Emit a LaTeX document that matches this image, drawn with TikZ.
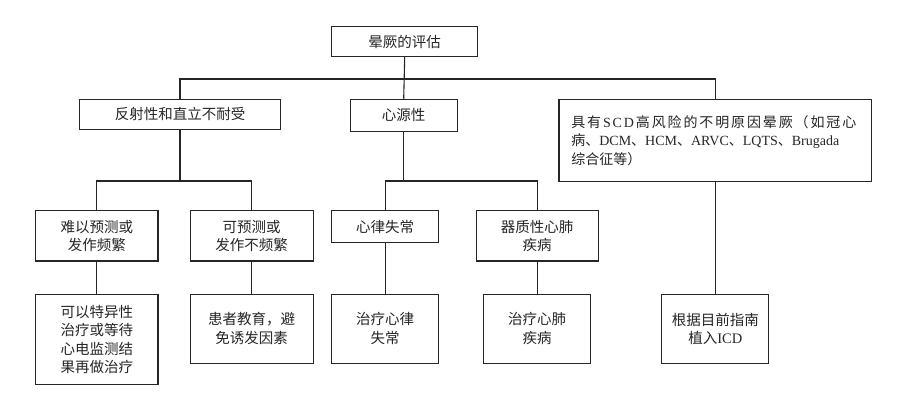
\documentclass[tikz,border=0pt]{standalone}
\usepackage{fontspec}
\setmainfont{Liberation Serif}
\newfontfamily\cjk{Noto Sans CJK SC}
\newcommand{\lat}[1]{{\rmfamily #1}}
\begin{document}
\begin{tikzpicture}[x=1pt,y=-1pt,
  box/.style={draw=black!85, line width=1.1pt, align=center, inner sep=2pt,
    font=\cjk\fontsize{14.5}{18.5}\selectfont, text=black!85},
  link/.style={draw=black!85, line width=1.1pt}]
\useasboundingbox (0,0) rectangle (902,406);
\fill[white] (0,0) rectangle (902,406);
% level 0
\node[box, minimum width=146pt, minimum height=30pt] (top) at (404.7,41.7) {晕厥的评估};
% level 1
\node[box, minimum width=201.4pt, minimum height=30pt] (A) at (180,114.3) {反射性和直立不耐受};
\node[box, minimum width=107.3pt, minimum height=32pt] (B) at (403.7,115.3) {心源性};
\node[box, font=\cjk\fontsize{14}{18.5}\selectfont, minimum width=312.7pt, minimum height=82.4pt, text width=288pt, inner xsep=12.35pt, align=left] (C) at (715.3,140.5)
  {\makebox[285pt][s]{具\hfil 有\hfil \lat{S}\hfil\lat{C}\hfil\lat{D}\hfil 高\hfil 风\hfil 险\hfil 的\hfil 不\hfil 明\hfil 原\hfil 因\hfil 晕\hfil 厥\hfil （\hfil 如\hfil 冠\hfil 心}\\
   病、\lat{DCM}、\lat{HCM}、\lat{ARVC}、\lat{LQTS}、\lat{Brugada}\\
   综合征等）};
% level 2
\node[box, minimum width=122.3pt, minimum height=50.3pt] (A1) at (96.8,235.8) {难以预测或\\发作频繁};
\node[box, minimum width=122.7pt, minimum height=50.3pt] (A2) at (251.7,235.8) {可预测或\\发作不频繁};
\node[box, minimum width=107pt, minimum height=32pt] (B1) at (385.2,226.7) {心律失常};
\node[box, minimum width=122.3pt, minimum height=50.3pt] (B2) at (537.2,235.8) {器质性心肺\\疾病};
% level 3
\node[box, minimum width=122.3pt, minimum height=90.4pt] (A1a) at (96.8,339.5) {可以特异性\\治疗或等待\\心电监测结\\果再做治疗};
\node[box, minimum width=122.7pt, minimum height=68.7pt] (A2a) at (251.7,328.7) {患者教育，避\\免诱发因素};
\node[box, minimum width=107pt, minimum height=68.7pt] (B1a) at (385.2,328.7) {治疗心律\\失常};
\node[box, minimum width=107.4pt, minimum height=68.7pt] (B2a) at (537.2,328.7) {治疗心肺\\疾病};
\node[box, minimum width=107pt, minimum height=68.7pt] (C1) at (715.3,328.7) {根据目前指南\\植入\lat{ICD}};
% junctions
\coordinate (j0) at (404.7,79);
\coordinate (j1) at (180,181);
\coordinate (j2) at (403.7,181);
% connectors
\draw[link] (top.south) -- (B.north);
\draw[link] (A.north) |- (j0) -| (C.north);
\draw[link] (A.south) -- (j1);
\draw[link] (A1.north) |- (j1) -| (A2.north);
\draw[link] (B.south) -- (j2);
\draw[link] (B1.north) |- (j2) -| (B2.north);
\draw[link] (A1.south) -- (A1a.north);
\draw[link] (A2.south) -- (A2a.north);
\draw[link] (B1.south) -- (B1a.north);
\draw[link] (B2.south) -- (B2a.north);
\draw[link] (C.south) -- (C1.north);
\end{tikzpicture}
\end{document}
